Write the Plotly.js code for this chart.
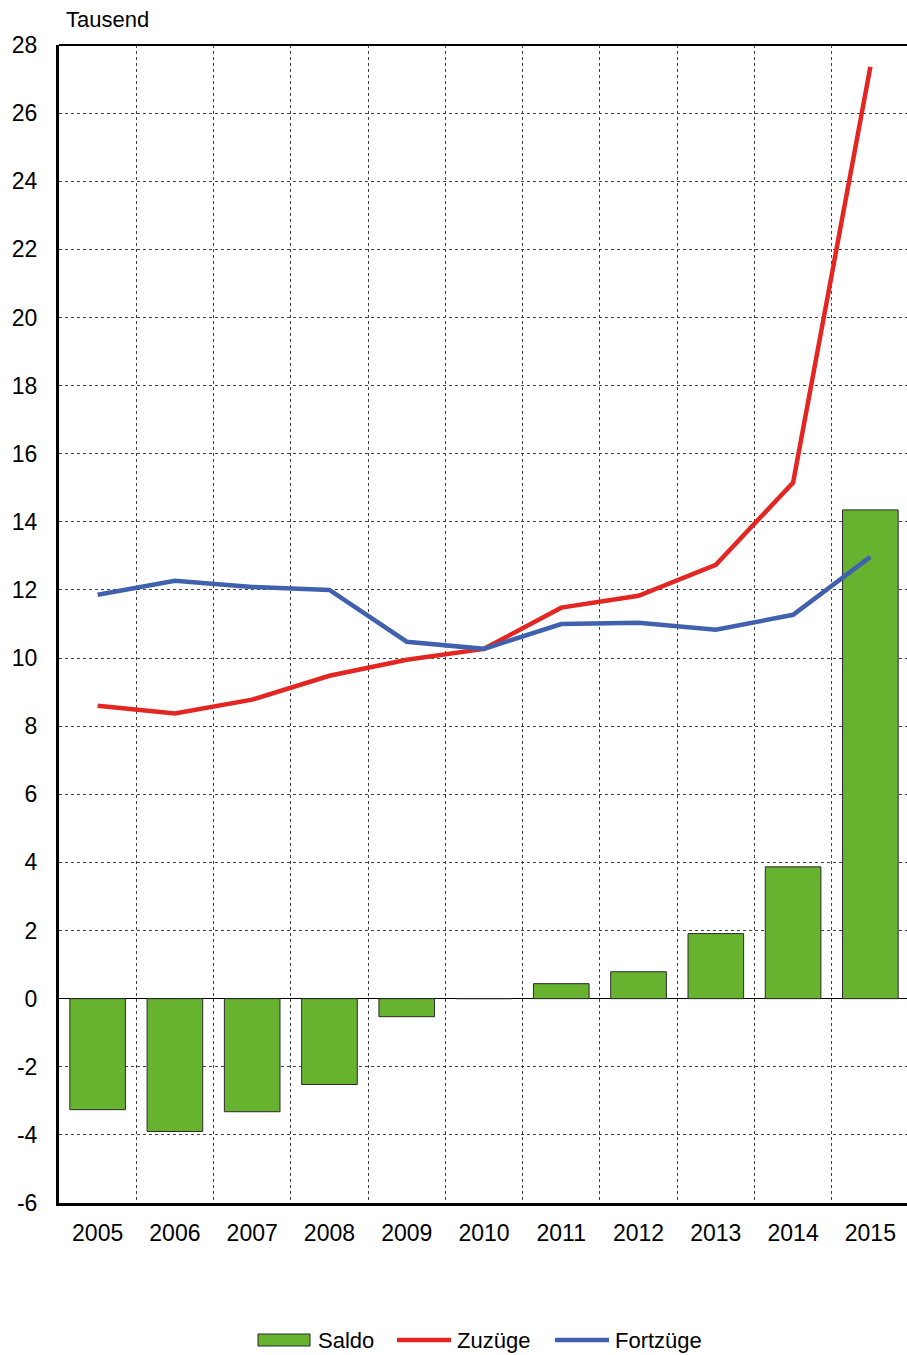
<!DOCTYPE html>
<html>
<head>
<meta charset="utf-8">
<script src="https://cdn.plot.ly/plotly-3.0.1.min.js"></script>
<style>html,body{margin:0;padding:0;background:#fff;overflow:hidden}#chart{width:909px;height:1355px}</style>
</head>
<body>
<div id="chart"></div>
<script>
var years = ["2005","2006","2007","2008","2009","2010","2011","2012","2013","2014","2015"];
var saldo = [-3.26, -3.9, -3.32, -2.52, -0.53, 0.0, 0.44, 0.79, 1.91, 3.87, 14.35];
var zuzuege = [8.6, 8.37, 8.78, 9.48, 9.95, 10.27, 11.48, 11.83, 12.74, 15.15, 27.36];
var fortzuege = [11.86, 12.27, 12.09, 12.0, 10.48, 10.27, 11.0, 11.04, 10.83, 11.27, 12.97];
var yTicks = [-6,-4,-2,0,2,4,6,8,10,12,14,16,18,20,22,24,26,28];
var seriesNames = ["Saldo", "Zuzüge", "Fortzüge"];
var colors = {bar:"#67b22f", red:"#e32622", blue:"#4061ad"};

var font = "Liberation Sans, Arial, sans-serif";
var W = 909, H = 1355, ML = 59, MR = 0, MT = 45, MB = 152;
var pw = W - ML - MR, ph = H - MT - MB;
function px(x){ return (x - ML) / pw; }
function py(y){ return (H - MB - y) / ph; }

var traces = [
  {type:"bar", name:seriesNames[0], x:years, y:saldo, width:0.72,
   marker:{color:colors.bar, line:{color:"#2b2b2b", width:1}}},
  {type:"scatter", mode:"lines", name:seriesNames[1], x:years, y:zuzuege,
   line:{color:colors.red, width:4.5}},
  {type:"scatter", mode:"lines", name:seriesNames[2], x:years, y:fortzuege,
   line:{color:colors.blue, width:4.5}}
];

var legY = py(1340);
var shapes = [
  {type:"line", xref:"paper", yref:"paper", x0:0, x1:1, y0:1, y1:1, line:{color:"#000", width:2}},
  {type:"rect", xref:"paper", yref:"paper", x0:px(258), x1:px(310), y0:py(1346), y1:py(1334),
   fillcolor:colors.bar, line:{color:"#2b2b2b", width:1}},
  {type:"line", xref:"paper", yref:"paper", x0:px(397), x1:px(451), y0:legY, y1:legY,
   line:{color:colors.red, width:4.5}},
  {type:"line", xref:"paper", yref:"paper", x0:px(555), x1:px(609), y0:legY, y1:legY,
   line:{color:colors.blue, width:4.5}}
];
var legX = [316, 455, 613];
var annotations = [{text:"Tausend", xref:"paper", yref:"paper", x:px(64), y:py(20),
                xanchor:"left", yanchor:"middle", showarrow:false,
                font:{family:font, size:22, color:"#000"}}];
for (var i = 0; i < seriesNames.length; i++) {
  annotations.push({text:seriesNames[i], xref:"paper", yref:"paper", x:px(legX[i]), y:legY,
    xanchor:"left", yanchor:"middle", showarrow:false,
    font:{family:font, size:22, color:"#000"}});
}

var layout = {
  width:W, height:H,
  margin:{l:ML, r:MR, t:MT, b:MB},
  paper_bgcolor:"#fff", plot_bgcolor:"#fff",
  font:{family:font, size:23, color:"#000"},
  showlegend:false,
  xaxis:{type:"category", tickson:"boundaries", showgrid:true, gridcolor:"#444",
         griddash:"dot", gridwidth:1, ticks:"", showline:true, linecolor:"#000",
         linewidth:3, mirror:false, ticklabelstandoff:7, automargin:false,
         tickfont:{family:font, size:23, color:"#000"}},
  yaxis:{range:[-6,28], tickvals:yTicks, ticktext:yTicks.map(String), showgrid:true,
         gridcolor:"#444", griddash:"dot", gridwidth:1, zeroline:true,
         zerolinecolor:"#000", zerolinewidth:1, showline:true, linecolor:"#000",
         linewidth:3, ticks:"", ticklabelstandoff:14, automargin:false,
         tickfont:{family:font, size:23, color:"#000"}},
  shapes:shapes,
  annotations:annotations
};
Plotly.newPlot("chart", traces, layout, {staticPlot:true});
</script>
</body>
</html>
